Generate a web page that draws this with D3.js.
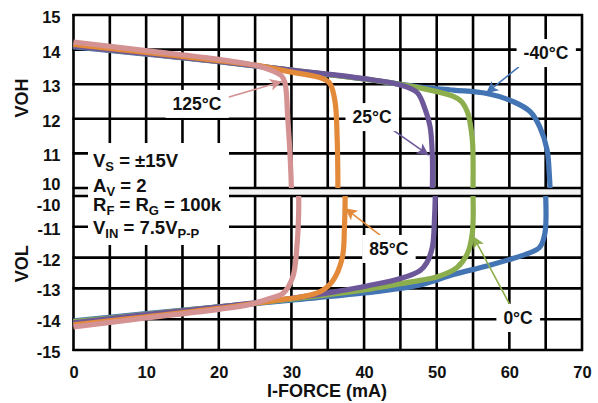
<!DOCTYPE html>
<html>
<head>
<meta charset="utf-8">
<script src="https://cdn.jsdelivr.net/npm/d3@7"></script>
<style>
  body { margin: 0; background: #fff; }
  text { font-family: "Liberation Sans", Arial, sans-serif; font-weight: bold; }
</style>
</head>
<body>
<svg id="chart" width="598" height="403"></svg>
<script>
// ---- data (mA, V) ----
var xTicks = [0, 10, 20, 30, 40, 50, 60, 70];
var xGrid = [5, 10, 15, 20, 25, 30, 35, 40, 45, 50, 55, 60, 65];
var vohTicks = [10, 11, 12, 13, 14, 15];
var volTicks = [-15, -14, -13, -12, -11, -10];

var temps = ["-40°C", "0°C", "25°C", "85°C", "125°C"];
var colors = ["#4374b3", "#8cae4d", "#6c5799", "#e38a3a", "#d49292"];

var vohM40 = [[0,14.08],[10,13.87],[20,13.65],[30,13.4],[40,13.15],[47.7,12.92],[52.3,12.83],[56.9,12.73],[60.5,12.5],[62.9,12.2],[64.2,11.76],[65.2,11.1],[65.5,10.4],[65.6,10.0]];
var volM40 = [[0,-14.05],[10,-13.82],[20,-13.6],[30,-13.38],[40,-13.15],[47.7,-12.89],[52.3,-12.55],[56.9,-12.27],[62.4,-11.88],[64.2,-11.66],[64.9,-11.2],[65,-10.0]];
var voh0 = [[0,14.1],[10,13.88],[20,13.66],[30,13.41],[40,13.15],[45,13.0],[48,12.88],[52.3,12.65],[53.4,12.5],[54.3,12.15],[54.9,11.4],[55.0,10.9],[55.0,10.0]];
var vol0 = [[0,-14.08],[10,-13.84],[20,-13.6],[30,-13.35],[40,-13.05],[45,-12.85],[47.7,-12.74],[50,-12.63],[52.8,-12.32],[54.2,-11.88],[54.9,-11.2],[55,-10.0]];
var voh25 = [[0,14.1],[10,13.88],[20,13.66],[30,13.41],[40,13.16],[45,12.98],[47.3,12.76],[48.4,12.28],[49.1,11.76],[49.4,10.9],[49.4,10.0]];
var vol25 = [[0,-14.12],[10,-13.85],[20,-13.6],[30,-13.32],[35.7,-13.12],[40.4,-12.92],[45,-12.68],[47.7,-12.42],[48.6,-12.18],[49.4,-11.66],[49.7,-10.7],[49.8,-10.0]];
var voh85 = [[0,14.15],[10,13.92],[20,13.68],[25,13.55],[30,13.35],[34.2,13.17],[35.3,13.02],[36,12.5],[36.3,11.4],[36.4,10.0]];
var vol85 = [[0,-14.18],[10,-13.92],[20,-13.65],[28,-13.38],[31.2,-13.28],[34,-13.1],[35.7,-12.75],[37,-12.0],[37.3,-11.0],[37.4,-10.0]];
var voh125 = [[0,14.22],[10,13.97],[20,13.72],[25,13.55],[27.5,13.38],[28.6,13.25],[29.1,13.05],[29.5,12.0],[29.8,11.0],[30.0,10.0]];
var vol125 = [[0,-14.25],[10,-13.96],[20,-13.68],[24.3,-13.52],[27,-13.33],[28.9,-13.15],[30.2,-12.62],[30.8,-11.5],[31,-10.5],[31,-10.0]];

// label position, arrow tail, arrow tip (mA, V); panel "top" or "bot"
var labels = [
  {t: "-40°C", c: 0, panel: "top", at: [65.05, 13.9], from: [61.3, 13.5], to: [56.8, 12.74]},
  {t: "0°C",   c: 1, panel: "bot", at: [61.2, -13.96], from: [60.1, -13.54], to: [55.0, -11.3]},
  {t: "25°C",  c: 2, panel: "top", at: [41.1, 12.05], from: [43.6, 11.73], to: [48.9, 10.95]},
  {t: "85°C",  c: 3, panel: "bot", at: [43.4, -11.72], from: [42.2, -11.27], to: [37.4, -10.4]},
  {t: "125°C", c: 4, panel: "top", at: [17.0, 12.43], from: [21.3, 12.62], to: [28.7, 13.08]}
];

var topSeries = [vohM40, voh0, voh25, voh85, voh125];
var botSeries = [volM40, vol0, vol25, vol85, vol125];

var svg = d3.select("#chart");

var x = d3.scaleLinear().domain([0, 70]).range([73.5, 582]);
var yTop = d3.scaleLinear().domain([10, 15]).range([188, 15]);
var yBot = d3.scaleLinear().domain([-15, -10]).range([350, 196]);

// gap between the two panels
svg.append("rect")
   .attr("x", x(0)).attr("y", yTop(10))
   .attr("width", x(70) - x(0)).attr("height", yBot(-10) - yTop(10))
   .attr("fill", "#f3f3f3");

var grid = svg.append("g").attr("stroke", "#000").attr("stroke-width", 2.6);

[[yTop, vohTicks], [yBot, volTicks]].forEach(function(p){
    var y = p[0], ticks = p[1];
    grid.selectAll(null).data(ticks).enter().append("line")
        .attr("x1", x(0) - 1).attr("x2", x(70) + 1)
        .attr("y1", function(d){ return y(d); })
        .attr("y2", function(d){ return y(d); });
    grid.selectAll(null).data(xGrid).enter().append("line")
        .attr("x1", function(d){ return x(d); })
        .attr("x2", function(d){ return x(d); })
        .attr("y1", y.range()[1]).attr("y2", y.range()[0]);
});
// side borders
grid.append("line").attr("x1", x(0)).attr("x2", x(0)).attr("y1", yTop(15) - 1).attr("y2", yBot(-15) + 1);
grid.append("line").attr("x1", x(70)).attr("x2", x(70)).attr("y1", yTop(15) - 1).attr("y2", yBot(-15) + 1);

// legend box (covers grid)
svg.append("rect").attr("x", 88).attr("y", 143).attr("width", 141).attr("height", 102).attr("fill", "#fff");

// label boxes
function px(l, p){ return x(p[0]); }
function py(l, p){ return (l.panel == "top" ? yTop : yBot)(p[1]); }

var labG = svg.append("g");
labels.forEach(function(l){
    var t = labG.append("text")
        .attr("x", px(l, l.at)).attr("y", py(l, l.at))
        .attr("text-anchor", "middle").attr("dominant-baseline", "central")
        .attr("font-size", "17.5px").attr("fill", "#111")
        .text(l.t);
    var b = t.node().getBBox();
    labG.insert("rect", "text")
        .attr("x", b.x - 7).attr("y", b.y - 4)
        .attr("width", b.width + 14).attr("height", b.height + 8)
        .attr("fill", "#fff");
});

// curves
var line = d3.line()
    .x(function(d){ return x(d[0]); })
    .curve(d3.curveCatmullRom.alpha(0.5));

var curves = svg.append("g").attr("fill", "none").attr("stroke-width", 5.2).attr("stroke-linejoin", "round");
topSeries.forEach(function(s, i){
    curves.append("path").datum(s)
        .attr("stroke", colors[i])
        .attr("d", line.y(function(d){ return yTop(d[1]); }));
});
botSeries.forEach(function(s, i){
    curves.append("path").datum(s)
        .attr("stroke", colors[i])
        .attr("d", line.y(function(d){ return yBot(d[1]); }));
});

// arrows
var defs = svg.append("defs");
colors.forEach(function(c, i){
    defs.append("marker")
        .attr("id", "arr" + i)
        .attr("viewBox", "0 0 10 10").attr("refX", 10).attr("refY", 5)
        .attr("markerWidth", 15).attr("markerHeight", 12)
        .attr("markerUnits", "userSpaceOnUse")
        .attr("orient", "auto")
      .append("path").attr("d", "M0,0 L10,5 L0,10 L2.5,5 Z").attr("fill", c);
});
labels.forEach(function(l){
    svg.append("line")
       .attr("x1", px(l, l.from)).attr("y1", py(l, l.from))
       .attr("x2", px(l, l.to)).attr("y2", py(l, l.to))
       .attr("stroke", colors[l.c]).attr("stroke-width", 1.6)
       .attr("marker-end", "url(#arr" + l.c + ")");
});
labG.raise();

// axes labels (plain hyphen for negatives, as in the original)
var fmt = function(d){ return String(d); };
var xAxis = svg.append("g")
    .attr("transform", "translate(0," + (yBot(-15) + 16) + ")")
    .call(d3.axisBottom(x).tickValues(xTicks).tickSize(0).tickFormat(fmt));
xAxis.select(".domain").remove();
xAxis.selectAll("text").attr("font-size", "16.5px").attr("fill", "#111").attr("dy", "0.55em");

var topAxis = svg.append("g")
    .attr("transform", "translate(" + (x(0) - 10) + ",0)")
    .call(d3.axisLeft(yTop).tickValues(vohTicks).tickSize(0).tickFormat(fmt));
var botAxis = svg.append("g")
    .attr("transform", "translate(" + (x(0) - 10) + ",0)")
    .call(d3.axisLeft(yBot).tickValues(volTicks).tickSize(0).tickFormat(fmt));
[topAxis, botAxis].forEach(function(a){
    a.select(".domain").remove();
    a.selectAll("text").attr("font-size", "16.5px").attr("fill", "#111").attr("dy", "0.45em");
});
topAxis.selectAll("text").filter(function(d){ return d == 10; }).attr("dy", "0.1em");
botAxis.selectAll("text").filter(function(d){ return d == -10; }).attr("dy", "0.85em");

svg.append("text").attr("transform", "translate(28," + yTop(12.6) + ") rotate(-90)")
   .attr("text-anchor", "middle").attr("font-size", "18px").attr("fill", "#111").text("VOH");
svg.append("text").attr("transform", "translate(28," + yBot(-12.2) + ") rotate(-90)")
   .attr("text-anchor", "middle").attr("font-size", "18px").attr("fill", "#111").text("VOL");
svg.append("text").attr("x", 327).attr("y", 397)
   .attr("text-anchor", "middle").attr("font-size", "18px").attr("fill", "#111").text("I-FORCE (mA)");

// conditions legend
var cond = [
  {y: 167, parts: [["V", 0], ["S", 1], [" = ±15V", 0]]},
  {y: 192, parts: [["A", 0], ["V", 1], [" = 2", 0]]},
  {y: 211, parts: [["R", 0], ["F", 1], [" = R", 0], ["G", 1], [" = 100k", 0]]},
  {y: 234, parts: [["V", 0], ["IN", 1], [" = 7.5V", 0], ["P-P", 1]]}
];
cond.forEach(function(c){
    var t = svg.append("text").attr("x", 93).attr("y", c.y).attr("font-size", "18.5px").attr("fill", "#111");
    var sub = false;
    c.parts.forEach(function(p){
        var dy = 0;
        if (p[1] && !sub) dy = 4;
        if (!p[1] && sub) dy = -4;
        sub = !!p[1];
        t.append("tspan").attr("dy", dy).attr("font-size", p[1] ? "13px" : null).text(p[0]);
    });
});
</script>
</body>
</html>
